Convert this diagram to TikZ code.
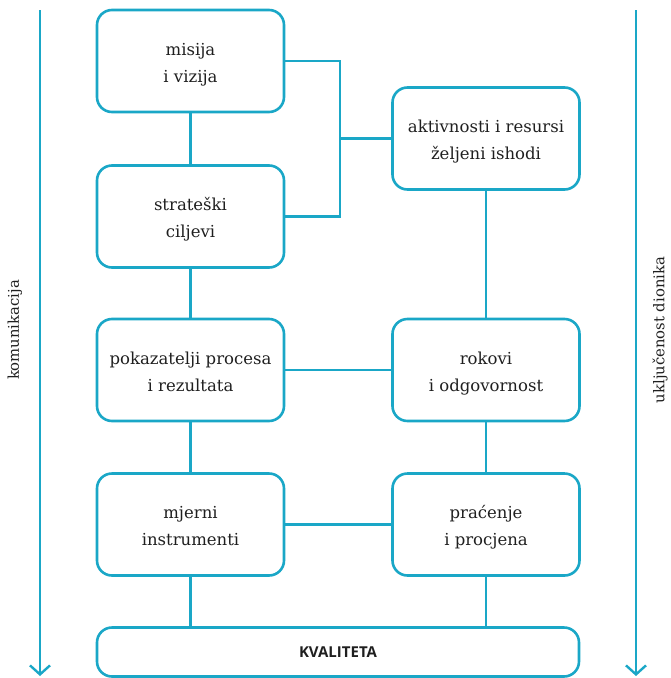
\documentclass[tikz,border=0pt]{standalone}
\usepackage{fontspec}
\setmainfont{DejaVu Serif}
\newfontfamily\labelsans{Open Sans}
\usetikzlibrary{arrows.meta}
\definecolor{flowblue}{RGB}{26,167,199}

\begin{document}
\begin{tikzpicture}[x=1pt,y=-1pt,
  stepbox/.style={draw=flowblue,line width=2.6pt,rounded corners=15pt,
    minimum width=187pt,minimum height=102pt,align=center,
    font=\fontsize{16.5}{27}\selectfont,text=black!88,
    text height=47pt,text depth=5pt},
  link/.style={draw=flowblue,line width=2.4pt},
  side/.style={draw=flowblue,line width=2.4pt,-{Straight Barb[length=9pt,width=20pt,line width=2.4pt]}},
  sidetext/.style={rotate=90,font=\fontsize{14.8}{17}\selectfont,text=black!88}]
\useasboundingbox (0,0) rectangle (671,678);
\newcommand{\colL}{190.5}
\newcommand{\colR}{486}

\node[stepbox] (misija) at (\colL,61) {misija\\i vizija};
\node[stepbox] (ciljevi) at (\colL,216.5) {strateški\\ciljevi};
\node[stepbox] (aktivnosti) at (\colR,138.5) {aktivnosti i resursi\\željeni ishodi};
\node[stepbox] (pokazatelji) at (\colL,370) {pokazatelji procesa\\i rezultata};
\node[stepbox] (rokovi) at (\colR,370) {rokovi\\i odgovornost};
\node[stepbox] (instrumenti) at (\colL,524.5) {mjerni\\instrumenti};
\node[stepbox] (pracenje) at (\colR,524.5) {praćenje\\i procjena};
\node[stepbox,minimum width=482pt,minimum height=49pt,text height={},text depth={},
  font=\labelsans\bfseries\fontsize{15}{17}\selectfont] (kvaliteta) at (338,652) {KVALITETA};

\coordinate (spoj) at (340,138.5);
\draw[link] (misija.east) -| (spoj) |- (ciljevi.east);
\draw[link] (spoj) -- (aktivnosti.west);
\draw[link] (misija) -- (ciljevi);
\draw[link] (ciljevi) -- (pokazatelji);
\draw[link] (aktivnosti) -- (rokovi);
\draw[link] (pokazatelji) -- (rokovi);
\draw[link] (pokazatelji) -- (instrumenti);
\draw[link] (rokovi) -- (pracenje);
\draw[link] (instrumenti) -- (pracenje);
\draw[link] (instrumenti.south) -- (instrumenti.south |- kvaliteta.north);
\draw[link] (pracenje.south) -- (pracenje.south |- kvaliteta.north);

\coordinate (komTop) at (40,10);
\coordinate (komEnd) at (40,676);
\coordinate (ukTop) at (636,10);
\coordinate (ukEnd) at (636,676);
\draw[side] (komTop) -- (komEnd);
\draw[side] (ukTop) -- (ukEnd);
\node[sidetext] (komunikacija) at (15,330) {komunikacija};
\node[sidetext] (dionici) at (660,330) {uključenost dionika};
\end{tikzpicture}
\end{document}
